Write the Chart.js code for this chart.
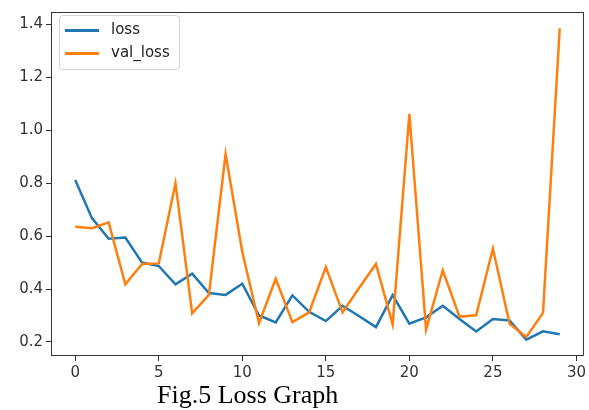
<!DOCTYPE html>
<html>
<head>
<meta charset="utf-8">
<script src="https://cdn.jsdelivr.net/npm/chart.js@4/dist/chart.umd.min.js"></script>
<style>
  html, body { margin: 0; padding: 0; background: #fff; }
  #wrap { position: relative; width: 589px; height: 410px; }
  #lossChart { position: absolute; left: 0; top: 0; }
  .legend {
    position: absolute; left: 59px; top: 15px; width: 119px; height: 53px;
    border: 1px solid #d4d4d4; border-radius: 4px; background: rgba(255,255,255,0.8);
    font-family: 'DejaVu Sans', sans-serif; font-size: 15px; color: #222;
  }
  .legend .row { position: absolute; left: 0; height: 20px; line-height: 20px; }
  .legend .swatch { position: absolute; left: 5px; top: 9px; width: 34px; height: 2.5px; }
  .legend .txt { position: absolute; left: 51px; top: -1px; white-space: nowrap; }
  .caption {
    position: absolute; left: 157px; top: 382px; line-height: 26px;
    font-family: 'Liberation Serif', 'Times New Roman', serif; font-size: 26px; color: #000;
    white-space: nowrap;
  }
</style>
</head>
<body>
<div id="wrap">
  <canvas id="lossChart" width="589" height="410"></canvas>
  <div class="legend">
    <div class="row" style="top:4px"><span class="swatch" style="background:#1f77b4"></span><span class="txt">loss</span></div>
    <div class="row" style="top:27px"><span class="swatch" style="background:#ff7f0e"></span><span class="txt">val_loss</span></div>
  </div>
  <div class="caption">Fig.5 Loss Graph</div>
</div>
<script>
const epochs = [0, 1, 2, 3, 4, 5, 6, 7, 8, 9, 10, 11, 12, 13, 14, 15, 16, 17, 18, 19, 20, 21, 22, 23, 24, 25, 26, 27, 28, 29];
const loss = [0.812, 0.668, 0.590, 0.595, 0.500, 0.487, 0.418, 0.458, 0.385, 0.378, 0.420, 0.300, 0.274, 0.376, 0.314,
              0.279, 0.337, 0.297, 0.256, 0.377, 0.269, 0.293, 0.337, 0.287, 0.240, 0.287, 0.281, 0.209, 0.240, 0.229];
const valLoss = [0.635, 0.630, 0.652, 0.418, 0.495, 0.497, 0.800, 0.308, 0.378, 0.910, 0.540, 0.271, 0.439, 0.275, 0.312,
                 0.483, 0.312, 0.405, 0.495, 0.266, 1.062, 0.247, 0.471, 0.296, 0.301, 0.553, 0.269, 0.219, 0.310, 1.385];
const xTicks = [0, 5, 10, 15, 20, 25, 30];
const yTicks = [0.2, 0.4, 0.6, 0.8, 1.0, 1.2, 1.4];

function toPoints(values) {
  return epochs.map((e, i) => ({ x: e, y: values[i] }));
}

// axes frame (matplotlib style box round the plot)
const frame = {
  id: 'frame',
  afterDatasetsDraw(chart) {
    const a = chart.chartArea;
    const c = chart.ctx;
    c.save();
    c.strokeStyle = '#333';
    c.lineWidth = 1;
    c.strokeRect(a.left + 0.5, a.top + 0.5, a.right - a.left - 1, a.bottom - a.top - 1);
    c.restore();
  }
};

const tickFont = { family: 'DejaVu Sans', size: 15 };

new Chart(document.getElementById('lossChart'), {
  type: 'line',
  data: {
    datasets: [{
      label: 'loss',
      data: toPoints(loss),
      borderColor: '#1f77b4',
      borderWidth: 2.5,
      pointRadius: 0,
      tension: 0,
      order: 2
    }, {
      label: 'val_loss',
      data: toPoints(valLoss),
      borderColor: '#ff7f0e',
      borderWidth: 2.5,
      pointRadius: 0,
      tension: 0,
      order: 1
    }]
  },
  options: {
    responsive: false,
    animation: false,
    events: [],
    layout: { padding: { top: 8, right: 2, left: 0, bottom: 0 } },
    scales: {
      x: {
        type: 'linear',
        min: -1.45,
        max: 30.45,
        border: { display: false },
        grid: { drawOnChartArea: false, tickLength: 5, tickColor: '#333', tickWidth: 1 },
        ticks: { font: tickFont, color: '#333', padding: 3, maxRotation: 0 },
        afterBuildTicks: (s) => { s.ticks = xTicks.map(v => ({ value: v })); },
        afterFit: (s) => { s.height = 54; }
      },
      y: {
        type: 'linear',
        min: 0.147,
        max: 1.447,
        border: { display: false },
        grid: { drawOnChartArea: false, tickLength: 5, tickColor: '#333', tickWidth: 1 },
        ticks: { font: tickFont, color: '#333', padding: 3, callback: (v) => v.toFixed(1) },
        afterBuildTicks: (s) => { s.ticks = yTicks.map(v => ({ value: v })); },
        afterFit: (s) => { s.width = 51; }
      }
    },
    plugins: {
      legend: { display: false },
      tooltip: { enabled: false }
    }
  },
  plugins: [frame]
});
</script>
</body>
</html>
